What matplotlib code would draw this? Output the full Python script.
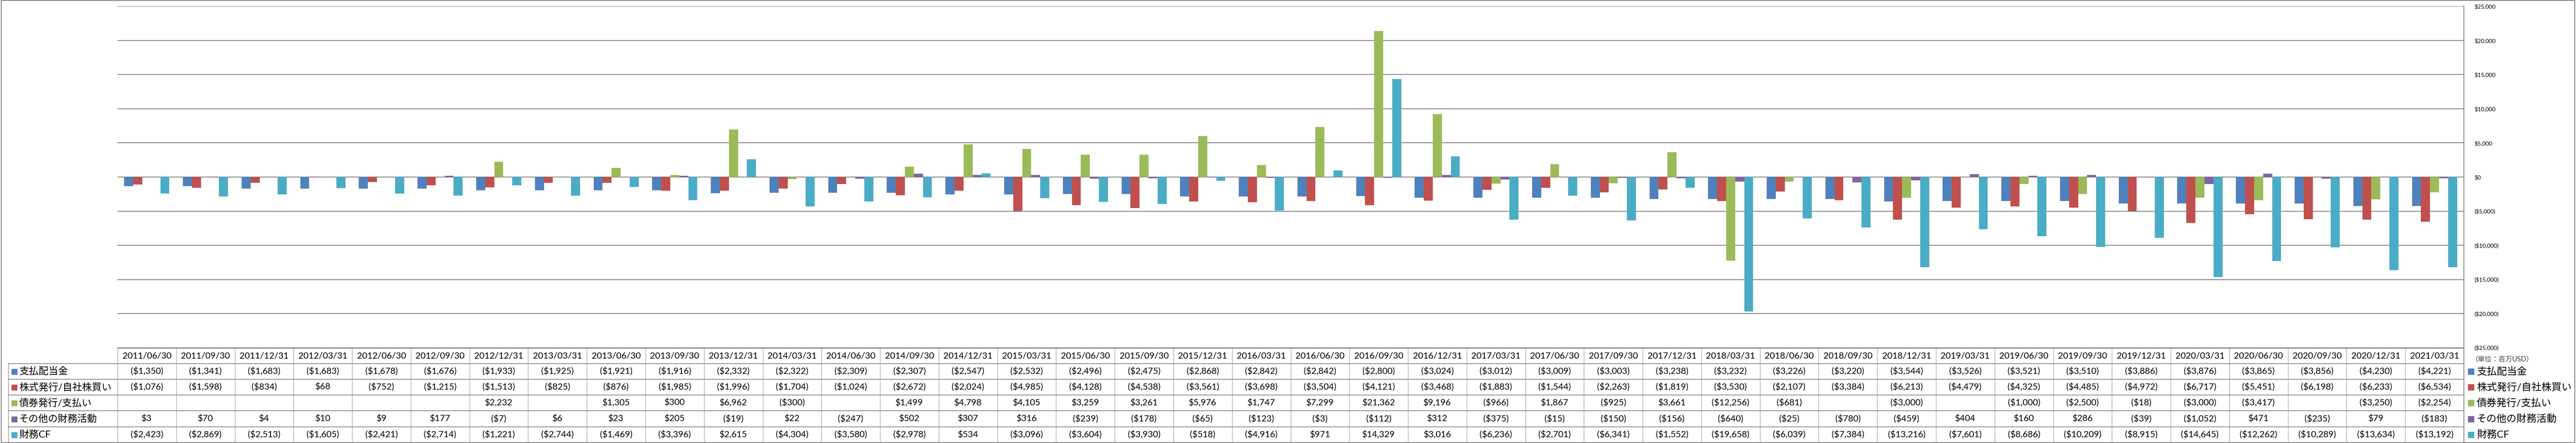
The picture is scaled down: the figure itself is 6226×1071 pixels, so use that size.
import matplotlib
matplotlib.use("Agg")
import matplotlib.pyplot as plt
import matplotlib.transforms as mtransforms
from matplotlib.lines import Line2D
from matplotlib.patches import Rectangle
import numpy as np

plt.rcParams['font.family'] = ['Lato', 'Noto Sans CJK JP', 'DejaVu Sans']

nan = np.nan

periods = [
    "2011/06/30", "2011/09/30", "2011/12/31", "2012/03/31", "2012/06/30",
    "2012/09/30", "2012/12/31", "2013/03/31", "2013/06/30", "2013/09/30",
    "2013/12/31", "2014/03/31", "2014/06/30", "2014/09/30", "2014/12/31",
    "2015/03/31", "2015/06/30", "2015/09/30", "2015/12/31", "2016/03/31",
    "2016/06/30", "2016/09/30", "2016/12/31", "2017/03/31", "2017/06/30",
    "2017/09/30", "2017/12/31", "2018/03/31", "2018/06/30", "2018/09/30",
    "2018/12/31", "2019/03/31", "2019/06/30", "2019/09/30", "2019/12/31",
    "2020/03/31", "2020/06/30", "2020/09/30", "2020/12/31", "2021/03/31",
]

dividends = [
    -1350, -1341, -1683, -1683, -1678, -1676, -1933, -1925, -1921, -1916,
    -2332, -2322, -2309, -2307, -2547, -2532, -2496, -2475, -2868, -2842,
    -2842, -2800, -3024, -3012, -3009, -3003, -3238, -3232, -3226, -3220,
    -3544, -3526, -3521, -3510, -3886, -3876, -3865, -3856, -4230, -4221,
]
stock = [
    -1076, -1598, -834, 68, -752, -1215, -1513, -825, -876, -1985,
    -1996, -1704, -1024, -2672, -2024, -4985, -4128, -4538, -3561, -3698,
    -3504, -4121, -3468, -1883, -1544, -2263, -1819, -3530, -2107, -3384,
    -6213, -4479, -4325, -4485, -4972, -6717, -5451, -6198, -6233, -6534,
]
bonds = [
    nan, nan, nan, nan, nan, nan, 2232, nan, 1305, 300,
    6962, -300, nan, 1499, 4798, 4105, 3259, 3261, 5976, 1747,
    7299, 21362, 9196, -966, 1867, -925, 3661, -12256, -681, nan,
    -3000, nan, -1000, -2500, -18, -3000, -3417, nan, -3250, -2254,
]
other = [
    3, 70, 4, 10, 9, 177, -7, 6, 23, 205,
    -19, 22, -247, 502, 307, 316, -239, -178, -65, -123,
    -3, -112, 312, -375, -15, -150, -156, -640, -25, -780,
    -459, 404, 160, 286, -39, -1052, 471, -235, 79, -183,
]
fin_cf = [
    -2423, -2869, -2513, -1605, -2421, -2714, -1221, -2744, -1469, -3396,
    2615, -4304, -3580, -2978, 534, -3096, -3604, -3930, -518, -4916,
    971, 14329, 3016, -6236, -2701, -6341, -1552, -19658, -6039, -7384,
    -13216, -7601, -8686, -10209, -8915, -14645, -12262, -10289, -13634, -13192,
]

series_names = ["支払配当金", "株式発行/自社株買い", "債券発行/支払い", "その他の財務活動", "財務CF"]
series_data = [dividends, stock, bonds, other, fin_cf]
colors = ["#4F81BD", "#C0504D", "#9BBB59", "#8064A2", "#4BACC6"]
y_ticks = list(range(-25000, 25001, 5000))
unit_label = "（単位：百万USD）"


def fmt(v):
    if np.isnan(v):
        return ""
    if v < 0:
        return f"(${-v:,.0f})"
    return f"${v:,.0f}"


W, H = 6226, 1071
fig = plt.figure(figsize=(W / 100, H / 100), dpi=100)


def fx(px):
    return px / W


def fy(py):
    return 1 - py / H


# plot area
left, right, top, bottom = 284, 5955, 15, 841
ax = fig.add_axes([fx(left), fy(bottom), fx(right) - fx(left), fy(top) - fy(bottom)])

x = np.arange(len(periods))
n = len(series_data)
bw = 1 / (n + 1.5)
for i, (vals, col) in enumerate(zip(series_data, colors)):
    ax.bar(x + (i - (n - 1) / 2) * bw, np.array(vals, dtype=float), width=bw,
           color=col, zorder=3)

ax.set_xlim(-0.5, len(periods) - 0.5)
ax.set_ylim(-25000, 25000)
ax.set_yticks(y_ticks)
ax.set_yticklabels([fmt(float(t)) for t in y_ticks])
for lab, t in zip(ax.get_yticklabels(), y_ticks):
    lab.set_color("#FF0000" if t < 0 else "black")
    lab.set_fontsize(16.5)
    lab.set_horizontalalignment("left")
ax.yaxis.tick_right()
ax.tick_params(axis="y", length=0, pad=18)
ax.set_xticks([])
ax.yaxis.grid(True, color="#868686", linewidth=1.5)
ax.set_axisbelow(True)
for s in ["top", "left", "bottom"]:
    ax.spines[s].set_visible(False)
ax.spines["right"].set_color("#868686")
ax.spines["right"].set_linewidth(1.4)

# data table under the plot
blend = mtransforms.blended_transform_factory(ax.transData, fig.transFigure)
row_edges = [842, 879, 917, 955, 993, 1032, 1070]
grey = "#8c8c8c"

# horizontal lines
fig.add_artist(Line2D([fx(left), fx(right)], [fy(842), fy(842)], color=grey, lw=1.4))
for yy in row_edges[1:]:
    fig.add_artist(Line2D([fx(20), fx(right)], [fy(yy), fy(yy)], color=grey, lw=1.4))
# vertical lines
fig.add_artist(Line2D([fx(20), fx(20)], [fy(879), fy(1070)], color=grey, lw=1.0))
for b in np.arange(len(periods) + 1) - 0.5:
    fig.add_artist(Line2D([b, b], [fy(842), fy(1070)], color="#a0a0a0", lw=0.9,
                          transform=blend))
fig.add_artist(Line2D([fx(right), fx(right)], [fy(842), fy(1070)], color=grey, lw=1.4))

# header row
hc = (row_edges[0] + row_edges[1]) / 2
for xi, p in zip(x, periods):
    fig.text(xi, fy(hc), p, transform=blend, ha="center", va="center", fontsize=15.5)

# value rows + row labels + right legend
for r, (name, vals, col) in enumerate(zip(series_names, series_data, colors)):
    yc = (row_edges[r + 1] + row_edges[r + 2]) / 2
    for xi, v in zip(x, vals):
        fig.text(xi, fy(yc), fmt(float(v)), transform=blend, ha="center",
                 va="center", fontsize=15.5)
    fig.add_artist(Rectangle((fx(28), fy(yc + 7)), fx(13), 13 / H, color=col,
                             transform=fig.transFigure))
    fig.text(fx(46), fy(yc), name, ha="left", va="center", fontsize=17)
    fig.add_artist(Rectangle((fx(5965), fy(yc + 7)), fx(14), 14 / H, color=col,
                             transform=fig.transFigure))
    fig.text(fx(5986), fy(yc), name, ha="left", va="center", fontsize=17.5)

fig.text(fx(5972), fy(868), unit_label, ha="left", va="center", fontsize=12,
         color="#404040")

# outer chart border
fig.add_artist(Rectangle((0.0005, 0.001), 0.999, 0.998, fill=False,
                         edgecolor="#868686", lw=1.5, transform=fig.transFigure))

fig.savefig("out.png", dpi=100)
